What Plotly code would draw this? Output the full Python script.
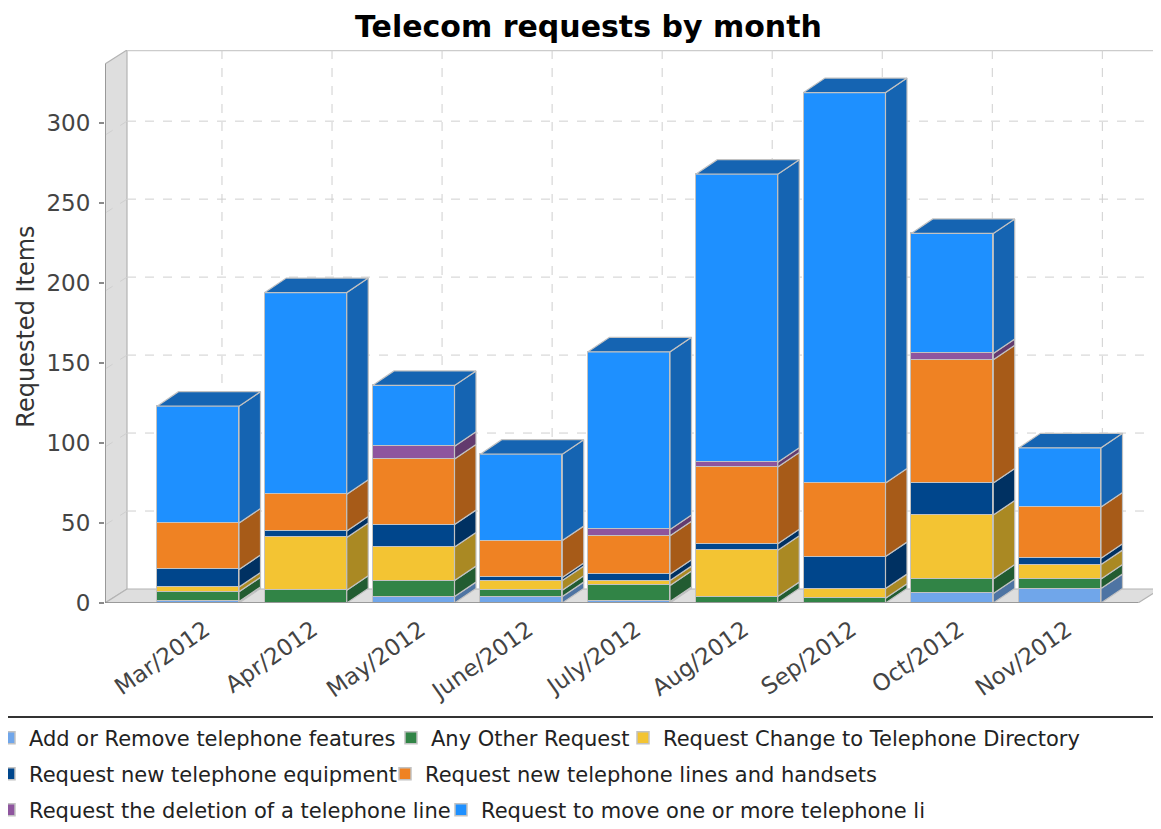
import plotly.graph_objects as go

# ---------------- data ----------------
months = ["Mar/2012", "Apr/2012", "May/2012", "June/2012", "July/2012",
          "Aug/2012", "Sep/2012", "Oct/2012", "Nov/2012"]

add_remove_features = [1, 0, 4, 4, 1, 0, 0, 6, 9]
any_other_request = [6, 8, 10, 4, 10, 4, 3, 9, 6]
change_directory = [3, 33, 21, 6, 3, 29, 6, 40, 9]
new_equipment = [11, 4, 14, 2, 4, 4, 20, 20, 4]
new_lines_handsets = [29, 23, 41, 23, 24, 48, 46, 77, 32]
delete_line = [0, 0, 8, 0, 4, 3, 0, 4, 0]
move_lines = [73, 126, 38, 54, 111, 180, 244, 75, 37]

series_names = [
    "Add or Remove telephone features",
    "Any Other Request",
    "Request Change to Telephone Directory",
    "Request new telephone equipment",
    "Request new telephone lines and handsets",
    "Request the deletion of a telephone line",
    "Request to move one or more telephone li",
]
series_values = [add_remove_features, any_other_request, change_directory,
                 new_equipment, new_lines_handsets, delete_line, move_lines]
series_colors = ["#70A6EA", "#318446", "#F3C433", "#00468C",
                 "#EF8223", "#8E559E", "#1E90FF"]

y_ticks = [0, 50, 100, 150, 200, 250, 300]

# ---------------- geometry ----------------
# positions below are page pixels of the 1161x829 window; the figure itself
# starts 8px in (default body margin), so canvas = page - OFF
OFF = 8
WIN_W, WIN_H = 1161, 829
FIG_W, FIG_H = WIN_W - OFF, WIN_H - OFF
PLOT_L, PLOT_R, PLOT_T, PLOT_B = 105, 1160, 50, 603
CAT0_PX, CAT_STEP_PX = 198.0, 107.75
PX_PER_UNIT = 1.6
WALL_DX, WALL_DY = 22, 14          # depth of the 3D box in px
BAR_DX, BAR_DY = 21.5, 14.5        # depth of the bars in px
BAR_W = 82 / CAT_STEP_PX


def xd(px):
    return (px - CAT0_PX) / CAT_STEP_PX


def yd(py):
    return (PLOT_B - py) / PX_PER_UNIT


def darker(hexcol, f=0.7):
    h = hexcol.lstrip("#")
    r, g, b = (int(h[i:i + 2], 16) for i in (0, 2, 4))
    return "#%02X%02X%02X" % (int(r * f), int(g * f), int(b * f))


DX = BAR_DX / CAT_STEP_PX
DY = BAR_DY / PX_PER_UNIT
EDGE = "#C2C2C2"
FONT = "DejaVu Sans"

fig = go.Figure()
xs = list(range(len(months)))

# ---------------- front faces ----------------
for k, (name, vals, col) in enumerate(zip(series_names, series_values, series_colors)):
    fig.add_trace(go.Bar(
        x=xs, y=vals, name=name, width=BAR_W,
        marker=dict(color=col, line=dict(color=EDGE, width=1.5)),
        legend="legend" if k == 0 else "legend%d" % (k + 1),
    ))

# ---------------- side faces ----------------
base = [0] * len(months)
totals = [sum(v[i] for v in series_values) for i in xs]
for vals, col in zip(series_values, series_colors):
    px_, py_ = [], []
    for i in xs:
        b0, b1 = base[i], base[i] + vals[i]
        if vals[i] > 0:
            xr = i + BAR_W / 2
            px_ += [xr, xr + DX, xr + DX, xr, xr, None]
            py_ += [b0, b0 + DY, b1 + DY, b1, b0, None]
        base[i] = b1
    fig.add_trace(go.Scatter(x=px_, y=py_, mode="lines", fill="toself",
                             fillcolor=darker(col), line=dict(color=EDGE, width=1.2),
                             showlegend=False, hoverinfo="skip"))

# ---------------- top faces (colour of the top-most non-empty series) ----------------
for i in xs:
    top_col = None
    for vals, col in zip(series_values, series_colors):
        if vals[i] > 0:
            top_col = col
    xl = i - BAR_W / 2
    t = totals[i]
    fig.add_trace(go.Scatter(
        x=[xl, xl + DX, xl + BAR_W + DX, xl + BAR_W, xl],
        y=[t, t + DY, t + DY, t, t],
        mode="lines", fill="toself", fillcolor=darker(top_col),
        line=dict(color=EDGE, width=1.2), showlegend=False, hoverinfo="skip"))

# ---------------- 3D box: walls, grid ----------------
shapes = []


def path(points):
    s = "M %f,%f " % (xd(points[0][0]), yd(points[0][1]))
    s += " ".join("L %f,%f" % (xd(a), yd(b)) for a, b in points[1:])
    return s + " Z"


wall_fill = "#DEDEDE"
shapes.append(dict(type="path", xref="x", yref="y", layer="below",
                   path=path([(PLOT_L, PLOT_B), (PLOT_L, PLOT_T + WALL_DY),
                              (PLOT_L + WALL_DX, PLOT_T), (PLOT_L + WALL_DX, PLOT_B - WALL_DY)]),
                   fillcolor=wall_fill, line=dict(color="#B4B4B4", width=1.2)))
shapes.append(dict(type="path", xref="x", yref="y", layer="below",
                   path=path([(PLOT_L, PLOT_B), (PLOT_L + WALL_DX, PLOT_B - WALL_DY),
                              (PLOT_R, PLOT_B - WALL_DY), (PLOT_R - WALL_DX, PLOT_B)]),
                   fillcolor=wall_fill, line=dict(color="#B4B4B4", width=1.2)))
shapes.append(dict(type="line", xref="x", yref="y", layer="below",
                   x0=xd(PLOT_L + WALL_DX), x1=xd(PLOT_R), y0=yd(PLOT_T), y1=yd(PLOT_T),
                   line=dict(color="#CCCCCC", width=2.5)))

GRID = "#CFCFCF"
GRID_PX_PER_UNIT = 1.5595
for v in y_ticks[1:]:
    fy = PLOT_B - GRID_PX_PER_UNIT * v
    by = fy - WALL_DY
    shapes.append(dict(type="line", xref="x", yref="y", layer="below",
                       x0=xd(PLOT_L), y0=yd(fy), x1=xd(PLOT_L + WALL_DX), y1=yd(by),
                       line=dict(color=GRID, width=1, dash="dash")))
    shapes.append(dict(type="line", xref="x", yref="y", layer="below",
                       x0=xd(PLOT_L + WALL_DX), y0=yd(by), x1=xd(PLOT_R), y1=yd(by),
                       line=dict(color=GRID, width=1, dash="dash")))
scale_x = (PLOT_R - PLOT_L) / (PLOT_R - PLOT_L - WALL_DX)
for i in xs:
    cpx = CAT0_PX + CAT_STEP_PX * i
    gx = PLOT_L + WALL_DX + (cpx - PLOT_L) * scale_x
    shapes.append(dict(type="line", xref="x", yref="y", layer="below",
                       x0=xd(gx), x1=xd(gx), y0=yd(PLOT_T), y1=yd(PLOT_B - WALL_DY),
                       line=dict(color=GRID, width=1, dash="dash")))
shapes.append(dict(type="line", xref="x", yref="y", layer="above",
                   x0=xd(PLOT_L), x1=xd(PLOT_L), y0=yd(PLOT_B), y1=yd(PLOT_T + WALL_DY),
                   line=dict(color="#8A8A8A", width=1.5)))
shapes.append(dict(type="line", xref="x", yref="y", layer="above",
                   x0=xd(PLOT_L), x1=xd(PLOT_R - WALL_DX), y0=yd(PLOT_B), y1=yd(PLOT_B),
                   line=dict(color="#8A8A8A", width=1.5)))

plot_w = PLOT_R - PLOT_L
plot_h = PLOT_B - PLOT_T


def pxp(px):
    return (px - PLOT_L) / plot_w


def pyp(py):
    return (PLOT_B - py) / plot_h


# legend frame top border
shapes.append(dict(type="line", xref="paper", yref="paper",
                   x0=pxp(0), x1=pxp(WIN_W + 10), y0=pyp(717), y1=pyp(717),
                   line=dict(color="#333333", width=2)))

# ---------------- legends (one per entry, placed like the original) ----------------
legend_text_px = [(29, 738), (431, 738), (663, 738),
                  (29, 774), (425, 774),
                  (29, 810), (481, 810)]
legends = {}
for k, (tx0, ty0) in enumerate(legend_text_px):
    key = "legend" if k == 0 else "legend%d" % (k + 1)
    legends[key] = dict(
        x=pxp(tx0 - 40), y=pyp(ty0), xanchor="left", yanchor="middle",
        orientation="h", bgcolor="rgba(0,0,0,0)", borderwidth=0,
        font=dict(family=FONT, size=21, color="#222222"),
        itemclick=False, itemdoubleclick=False,
    )

fig.update_layout(
    width=FIG_W, height=FIG_H,
    margin=dict(l=PLOT_L - OFF, r=WIN_W - PLOT_R, t=PLOT_T - OFF, b=WIN_H - PLOT_B,
                autoexpand=False),
    paper_bgcolor="white", plot_bgcolor="white",
    barmode="stack", bargap=0,
    title=dict(text="Telecom requests by month", x=(588.5 - OFF) / FIG_W, xref="container",
               xanchor="center", y=1 - (26 - OFF) / FIG_H, yref="container", yanchor="middle",
               font=dict(family=FONT, size=30, color="#000000", weight="bold")),
    xaxis=dict(range=[xd(PLOT_L), xd(PLOT_R)], tickvals=xs, ticktext=months,
               tickangle=-35, showgrid=False, zeroline=False, showline=False,
               ticks="", ticklabelshift=7, ticklabelstandoff=8,
               tickfont=dict(family=FONT, size=23, color="#444444")),
    yaxis=dict(range=[0, yd(PLOT_T)], tickvals=y_ticks, showgrid=False, zeroline=False,
               showline=False, ticks="outside", ticklen=5, tickcolor="#8A8A8A",
               tickwidth=1.5, ticklabelstandoff=4,
               tickfont=dict(family=FONT, size=23, color="#444444"),
               title=dict(text="Requested Items", standoff=5,
                          font=dict(family=FONT, size=24, color="#333333"))),
    shapes=shapes,
    showlegend=True,
    **legends,
)

fig.write_html("out.html")
